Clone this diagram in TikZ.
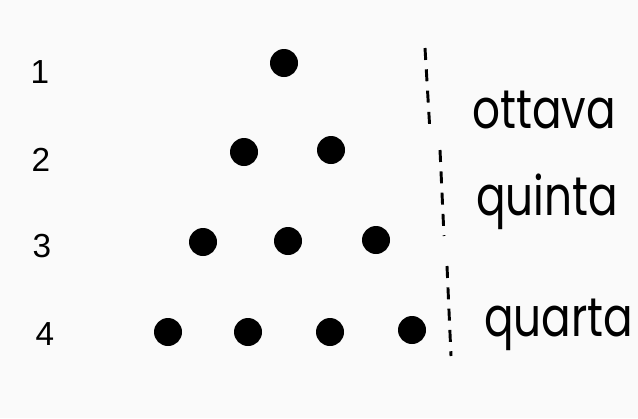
\documentclass[tikz,border=0pt]{standalone}
\usepackage{fontspec}
\newfontfamily\numfont{Liberation Sans}
\newfontfamily\intfont{Poppins}
\usetikzlibrary{positioning}

\begin{document}
\begin{tikzpicture}[
    x=0.75pt, y=-0.75pt,
    pebble/.style={circle, fill=black, inner sep=0pt, minimum width=21pt, minimum height=20pt},
    rowno/.style={font=\numfont\fontsize{25}{28}\selectfont, inner sep=0pt},
    interval/.style={font=\intfont\fontsize{41}{46}\selectfont, inner sep=0pt, anchor=base west, xscale=0.8, transform shape},
    sep/.style={line width=2.2pt, dash pattern=on 9pt off 7pt}
]
\fill[gray!4] (0,0) rectangle (638,418);
\useasboundingbox (0,0) rectangle (638,418);
% row numbers
\node[rowno] (n1) at (40,72) {1};
\node[rowno] (n2) at (41,160) {2};
\node[rowno] (n3) at (42,246) {3};
\node[rowno] (n4) at (45,334) {4};
% tetractys
\node[pebble] (p11) at (284,63) {};
\node[pebble] (p21) at (244,152) {};
\node[pebble] (p22) at (331,150) {};
\node[pebble] (p31) at (203,242) {};
\node[pebble] (p32) at (288,241) {};
\node[pebble] (p33) at (376,240) {};
\node[pebble] (p41) at (168,332) {};
\node[pebble] (p42) at (248,332) {};
\node[pebble] (p43) at (330,332) {};
\node[pebble] (p44) at (412,330) {};
% separators
\coordinate (a1) at (425,48);
\coordinate (a2) at (430,132);
\coordinate (b1) at (440,150);
\coordinate (b2) at (444,236);
\coordinate (c1) at (447,266);
\coordinate (c2) at (451,356);
\draw[sep] (a1) -- (a2);
\draw[sep] (b1) -- (b2);
\draw[sep] (c1) -- (c2);
% intervals
\node[interval] (ottava) at (472,128) {ottava};
\node[interval] (quinta) at (476,215) {quinta};
\node[interval] (quarta) at (484,336) {quarta};
\end{tikzpicture}
\end{document}
